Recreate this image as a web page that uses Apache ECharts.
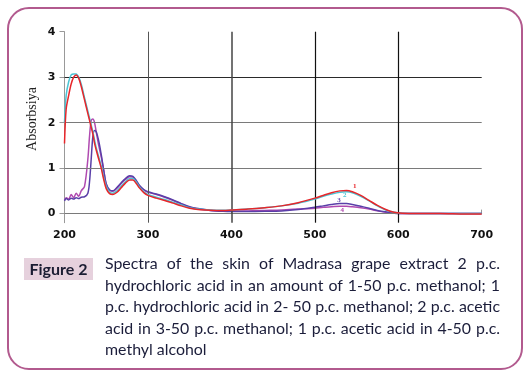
<!DOCTYPE html>
<html>
<head>
<meta charset="utf-8">
<script src="https://cdn.jsdelivr.net/npm/echarts@6/dist/echarts.min.js"></script>
<style>
  html, body { margin: 0; padding: 0; background: #fff; }
  #wrap { position: relative; width: 532px; height: 378px; overflow: hidden; }
  #chart { position: absolute; left: 0; top: 0; width: 532px; height: 378px; }
  #frame { position: absolute; left: 7px; top: 6.5px; width: 512px; height: 359px;
           border: 2.5px solid #b25a8e; border-radius: 22px; pointer-events: none; }
  #figlab { position: absolute; left: 24px; top: 258px; width: 69px; height: 22px;
            background: #e6d1dd; color: #1b1d33; font-family: Lato, sans-serif; font-weight: bold;
            font-size: 16px; line-height: 22px; text-align: center; }
  #caption { position: absolute; left: 105px; top: 252px; width: 395px; color: #1b1d3a;
             font-family: Lato, sans-serif; font-size: 16px; line-height: 21.5px; }
  #caption div { text-align: justify; text-align-last: justify; }
  #caption div.last { text-align: left; text-align-last: left; }
</style>
</head>
<body>
<div id="wrap">
  <div id="chart"></div>
  <div id="frame"></div>
  <div id="figlab">Figure 2</div>
  <div id="caption">
    <div>Spectra of the skin of Madrasa grape extract 2 p.c.</div>
    <div>hydrochloric acid in an amount of 1-50 p.c. methanol; 1</div>
    <div>p.c. hydrochloric acid in 2- 50 p.c. methanol; 2 p.c. acetic</div>
    <div>acid in 3-50 p.c. methanol; 1 p.c. acetic acid in 4-50 p.c.</div>
    <div class="last">methyl alcohol</div>
  </div>
</div>
<script>
// ---- data ----
const wavelength = [200,202,205,208,211,214,217,220,224,228,230,232,234,236,238,241,244,247,250,254,258,263,268,273,278,282,286,290,295,300,310,320,330,340,350,360,375,390,400,420,440,460,480,500,510,520,530,538,545,555,565,575,585,595,605,620,650,680,700];
const series1 = [1.54,2.3,2.6,2.85,3.0,3.05,2.98,2.8,2.5,2.2,2.05,1.9,1.75,1.55,1.4,1.2,1.0,0.75,0.55,0.44,0.42,0.47,0.57,0.67,0.74,0.74,0.66,0.56,0.46,0.40,0.34,0.29,0.23,0.17,0.12,0.09,0.075,0.07,0.08,0.10,0.13,0.17,0.24,0.34,0.40,0.46,0.50,0.51,0.48,0.40,0.29,0.18,0.09,0.03,0.01,0.0,0.0,-0.01,-0.01];
const series2 = [2.0,2.6,2.9,3.05,3.07,3.07,3.0,2.85,2.55,2.25,2.1,1.95,1.8,1.62,1.45,1.25,1.05,0.8,0.6,0.47,0.45,0.5,0.6,0.7,0.77,0.77,0.69,0.58,0.48,0.42,0.36,0.31,0.25,0.19,0.13,0.1,0.08,0.075,0.08,0.1,0.13,0.17,0.23,0.32,0.38,0.43,0.47,0.48,0.46,0.38,0.28,0.17,0.08,0.03,0.01,0.0,0.0,0.0,0.0];
const series3 = [0.28,0.33,0.3,0.34,0.32,0.35,0.33,0.36,0.37,0.45,0.7,1.2,1.7,1.83,1.8,1.6,1.3,0.95,0.65,0.52,0.5,0.58,0.68,0.77,0.83,0.82,0.73,0.62,0.53,0.48,0.43,0.37,0.3,0.22,0.15,0.11,0.07,0.05,0.045,0.045,0.05,0.06,0.09,0.14,0.17,0.2,0.22,0.22,0.2,0.16,0.12,0.07,0.04,0.01,0.0,0.0,0.0,0.0,0.0];
const series4 = [0.3,0.35,0.32,0.42,0.35,0.45,0.38,0.5,0.6,1.2,1.7,2.05,2.08,2.0,1.8,1.5,1.25,0.95,0.65,0.52,0.49,0.56,0.66,0.75,0.81,0.8,0.71,0.6,0.52,0.47,0.42,0.36,0.29,0.21,0.14,0.1,0.07,0.06,0.06,0.06,0.07,0.08,0.1,0.12,0.14,0.15,0.16,0.16,0.15,0.13,0.1,0.06,0.03,0.01,0.0,0.0,0.0,0.0,0.0];
const seriesNames = ['1','2','3','4'];
const labelX = [548, 536, 529, 533];
const labelY = [0.60, 0.40, 0.29, 0.07];
const yTicks = [0, 1, 2, 3, 4];
const hGrid = [0, 1, 2, 3];
const vGrid = [300, 400, 500, 600];

// ---- styles ----
const colors = ['#e8262a', '#4cc4d4', '#5a3fa8', '#b04ab0'];
const hGridStyle = [
  {color:'#7a7a7a', width:1}, {color:'#7a7a7a', width:1}, {color:'#7a7a7a', width:1}, {color:'#2a2a2a', width:1.2}
];
const vGridStyle = [
  {color:'#555', width:1}, {color:'#444', width:1.5}, {color:'#111', width:1.2}, {color:'#111', width:1.2}
];

const allSeries = [series1, series2, series3, series4];
const chart = echarts.init(document.getElementById('chart'), null, {renderer:'canvas'});

const seriesList = [{
  type: 'line', data: [], z: 1, silent: true,
  markLine: {
    silent: true, symbol: 'none', label: {show:false}, animation: false,
    data: hGrid.map((v,i) => ({yAxis: v, lineStyle: Object.assign({type:'solid'}, hGridStyle[i])}))
      .concat(vGrid.map((v,i) => ({xAxis: v, lineStyle: Object.assign({type:'solid'}, vGridStyle[i])})))
  }
}];
allSeries.forEach((vals, i) => {
  seriesList.push({
    name: seriesNames[i], type: 'line', z: 3 + (3 - i),
    data: wavelength.map((w, j) => [w, vals[j]]),
    showSymbol: false, smooth: 0.3, animation: false,
    lineStyle: {color: colors[i], width: 1.5},
    itemStyle: {color: colors[i]},
    markPoint: {
      symbol: 'circle', symbolSize: 0, animation: false,
      data: [{coord: [labelX[i], labelY[i]], value: seriesNames[i]}],
      label: {show: true, formatter: seriesNames[i], color: colors[i], fontSize: 7,
              fontWeight: 'bold', fontFamily: 'Liberation Serif', position: 'inside'}
    }
  });
});

chart.setOption({
  animation: false,
  grid: {left: 64.5, right: 50.3, top: 31.7, bottom: 155.3},
  xAxis: {
    type: 'value', min: 200, max: 700, interval: 100,
    axisLine: {show: true, lineStyle: {color: '#999', width: 1}},
    axisTick: {show: true, inside: true, length: 4, lineStyle: {color: '#999'}},
    axisLabel: {color: '#111', fontWeight: 'bold', fontSize: 11, fontFamily: 'DejaVu Sans', margin: 7},
    splitLine: {show: false}
  },
  yAxis: {
    type: 'value', min: -0.2, max: 4,
    axisLine: {show: true, lineStyle: {color: '#999', width: 1}},
    axisTick: {show: true, length: 5, customValues: yTicks, lineStyle: {color: '#999'}},
    axisLabel: {customValues: yTicks, color: '#111', fontWeight: 'bold', fontSize: 11, fontFamily: 'DejaVu Sans', margin: 9},
    splitLine: {show: false}
  },
  graphic: [{
    type: 'text', x: 32, y: 119, rotation: Math.PI / 2,
    style: {text: 'Absorbsiya', font: '14px "Liberation Serif"', fill: '#222', align: 'center', verticalAlign: 'middle'}
  }],
  series: seriesList
});

// fit caption font so the longest line fits the column width
(function fitCaption(){
  const cap = document.getElementById('caption');
  const lines = cap.querySelectorAll('div');
  const probe = document.createElement('span');
  probe.style.cssText = 'position:absolute;visibility:hidden;white-space:nowrap;font-family:Lato,sans-serif;font-size:16px;';
  document.body.appendChild(probe);
  let maxW = 0;
  lines.forEach(l => { probe.textContent = l.textContent; maxW = Math.max(maxW, probe.getBoundingClientRect().width); });
  document.body.removeChild(probe);
  const target = 394;
  if (maxW > target) cap.style.fontSize = (16 * target / maxW).toFixed(2) + 'px';
})();
</script>
</body>
</html>
